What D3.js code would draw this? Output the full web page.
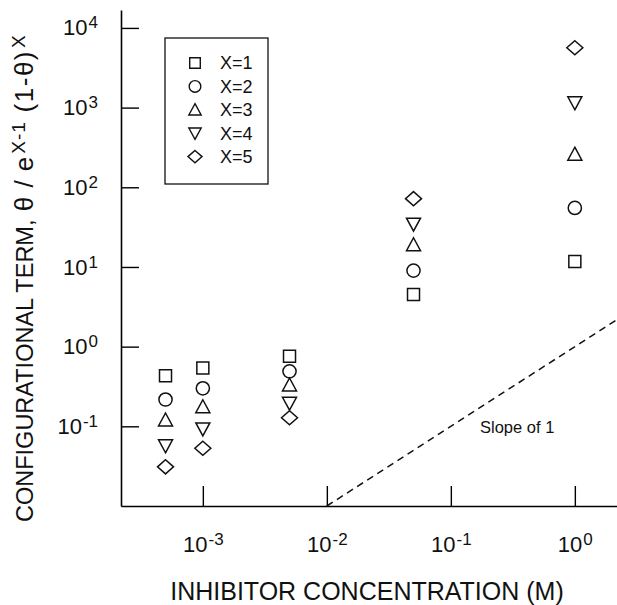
<!DOCTYPE html>
<html>
<head>
<meta charset="utf-8">
<script src="https://cdn.jsdelivr.net/npm/d3@7"></script>
<style>
  body { margin: 0; background: #fff; }
  svg { display: block; font-family: "Liberation Sans", Arial, Helvetica, sans-serif; }
</style>
</head>
<body>
<div id="chart"></div>
<script>
'use strict';

// Data
const concentrations = [5e-4, 1e-3, 5e-3, 5e-2, 1]
const seriesX1 = [0.43, 0.54, 0.76, 4.5, 11.7]
const seriesX2 = [0.217, 0.30, 0.49, 9.0, 55]
const seriesX3 = [0.12, 0.176, 0.33, 19, 260]
const seriesX4 = [0.057, 0.093, 0.195, 34.5, 1150]
const seriesX5 = [0.031, 0.053, 0.128, 72, 5630]
const seriesNames = ['X=1', 'X=2', 'X=3', 'X=4', 'X=5']
const xTicks = [1e-3, 1e-2, 1e-1, 1]
const xTickExps = ['-3', '-2', '-1', '0']
const yTicks = [1e-1, 1, 1e1, 1e2, 1e3, 1e4]
const yTickExps = ['-1', '0', '1', '2', '3', '4']
const slopeStart = 1e-2

const allSeries = [seriesX1, seriesX2, seriesX3, seriesX4, seriesX5]

const width = 617, height = 605

const svg = d3.select('#chart')
    .append('svg')
    .attr('width', width)
    .attr('height', height)

const xScale = d3.scaleLog()
    .domain([Math.pow(10, -3.66), Math.pow(10, 0.34)])
    .range([121, 617])
const yScale = d3.scaleLog()
    .domain([1e-2, Math.pow(10, 4.225)])
    .range([506, 10])

// open marker shapes, size = half width
const symSquare = { draw(ctx, r) { ctx.rect(-r, -r, 2 * r, 2 * r) } }
const symCircle = { draw(ctx, r) { ctx.moveTo(r, 0); ctx.arc(0, 0, r, 0, 2 * Math.PI) } }
const symTriUp = { draw(ctx, r) { ctx.moveTo(0, -r); ctx.lineTo(r, r * 0.85); ctx.lineTo(-r, r * 0.85); ctx.closePath() } }
const symTriDown = { draw(ctx, r) { ctx.moveTo(0, r); ctx.lineTo(r, -r * 0.85); ctx.lineTo(-r, -r * 0.85); ctx.closePath() } }
const symDiamond = { draw(ctx, r) { ctx.moveTo(0, -r * 0.88); ctx.lineTo(r, 0); ctx.lineTo(0, r * 0.88); ctx.lineTo(-r, 0); ctx.closePath() } }
const symbols = [symSquare, symCircle, symTriUp, symTriDown, symDiamond]
const symSizes = [6, 6.6, 7, 7, 8]

// "10" with a raised exponent
const supText = (sel, exps, supSize, rise) => {
    sel.each(function(d, i) {
        const t = d3.select(this).text(null)
        t.append('tspan').text('10')
        t.append('tspan')
            .attr('font-size', supSize)
            .attr('dx', 1)
            .attr('dy', -rise)
            .text(exps[i])
    })
}

const xAxis = svg.append('g')
    .attr('transform', `translate(0,${yScale.range()[0]})`)
    .call(d3.axisBottom(xScale)
        .tickValues(xTicks)
        .tickSizeInner(-20)
        .tickSizeOuter(0)
        .tickPadding(30))
xAxis.select('.domain').attr('stroke-width', 1.6)
xAxis.selectAll('.tick line').attr('stroke-width', 1.4)
xAxis.selectAll('.tick text')
    .attr('font-size', 22)
    .attr('fill', '#111')
    .call(supText, xTickExps, 17, 7)

const yAxis = svg.append('g')
    .attr('transform', `translate(${xScale.range()[0]},0)`)
    .call(d3.axisLeft(yScale)
        .tickValues(yTicks)
        .tickSizeInner(-18)
        .tickSizeOuter(0)
        .tickPadding(23))
yAxis.select('.domain').attr('stroke-width', 1.6)
yAxis.selectAll('.tick line').attr('stroke-width', 1.4)
yAxis.selectAll('.tick text')
    .attr('font-size', 22)
    .attr('fill', '#111')
    .call(supText, yTickExps, 17, 7)
svg.selectAll('g').attr('font-family', null)

// slope of 1 reference line
const slopeData = [slopeStart, xScale.domain()[1]]
const slopeLine = d3.line()
    .x(d => xScale(d))
    .y(d => yScale(d))
svg.append('path')
    .datum(slopeData)
    .attr('d', slopeLine)
    .attr('fill', 'none')
    .attr('stroke', '#111')
    .attr('stroke-width', 1.5)
    .attr('stroke-dasharray', '7,5')

svg.append('text')
    .attr('x', 480)
    .attr('y', 433)
    .attr('font-size', 16.5)
    .attr('fill', '#111')
    .text('Slope of 1')

// markers
allSeries.forEach((values, s) => {
    svg.append('g')
        .selectAll('path')
        .data(values.map((v, i) => ({ c: concentrations[i], v: v })))
        .join('path')
        .attr('transform', d => `translate(${xScale(d.c)},${yScale(d.v)})`)
        .attr('d', d3.symbol(symbols[s], symSizes[s]))
        .attr('fill', 'none')
        .attr('stroke', '#111')
        .attr('stroke-width', 1.5)
})

// legend
const legend = svg.append('g').attr('transform', 'translate(165,38)')
legend.append('rect')
    .attr('width', 103)
    .attr('height', 146)
    .attr('fill', '#fff')
    .attr('stroke', '#111')
    .attr('stroke-width', 1.3)
const rows = legend.selectAll('g.row')
    .data(seriesNames)
    .join('g')
    .attr('class', 'row')
    .attr('transform', (d, i) => `translate(0,${25 + i * 23.4})`)
rows.append('path')
    .attr('transform', 'translate(30,0)')
    .attr('d', (d, i) => d3.symbol(symbols[i], symSizes[i] * 0.88)())
    .attr('fill', 'none')
    .attr('stroke', '#111')
    .attr('stroke-width', 1.4)
rows.append('text')
    .attr('x', 55)
    .attr('dy', '0.36em')
    .attr('font-size', 18)
    .attr('fill', '#111')
    .text(d => d)

// axis titles
svg.append('text')
    .attr('x', 367)
    .attr('y', 600)
    .attr('text-anchor', 'middle')
    .attr('font-size', 25)
    .attr('fill', '#111')
    .text('INHIBITOR CONCENTRATION (M)')

const yTitle = svg.append('text')
    .attr('transform', 'translate(33,522) rotate(-90)')
    .attr('font-size', 23.5)
    .attr('fill', '#111')
yTitle.append('tspan').text('CONFIGURATIONAL TERM,')
yTitle.append('tspan').attr('font-size', 26).attr('letter-spacing', 1).text(' \u03b8 / e')
yTitle.append('tspan').attr('font-size', 19).attr('dx', 2).attr('dy', -8).attr('letter-spacing', 1).text('X-1')
yTitle.append('tspan').attr('font-size', 26).attr('dy', 8).attr('letter-spacing', 1.5).text(' (1-\u03b8)')
yTitle.append('tspan').attr('font-size', 19).attr('dx', 2).attr('dy', -8).text('X')
</script>
</body>
</html>
